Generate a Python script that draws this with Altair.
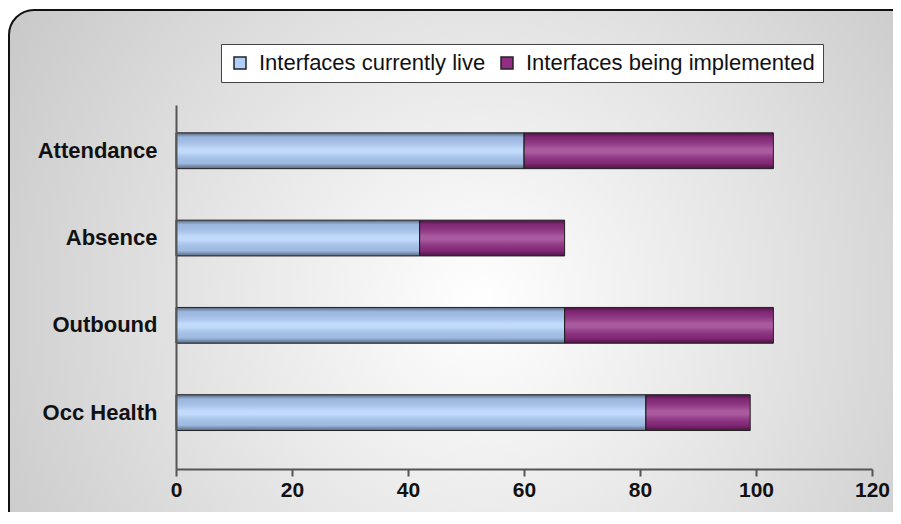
import altair as alt
import pandas as pd

categories = ["Attendance", "Absence", "Outbound", "Occ Health"]
series_names = ["Interfaces currently live", "Interfaces being implemented"]
live = [60, 42, 67, 81]
implemented = [43, 25, 36, 18]
x_ticks = [0, 20, 40, 60, 80, 100, 120]

rows = []
for i, c in enumerate(categories):
    rows.append({"category": c, "series": series_names[0], "idx": 0, "value": live[i]})
    rows.append({"category": c, "series": series_names[1], "idx": 1, "value": implemented[i]})
df = pd.DataFrame(rows)

FONT = "Liberation Sans"

bg = alt.Chart(alt.Data(values=[{"a": 1}])).mark_rect(
    fill=alt.Gradient(
        gradient="radial",
        x1=0.52, y1=0.53, r1=0,
        x2=0.52, y2=0.53, r2=0.7,
        stops=[
            alt.GradientStop(color="#ffffff", offset=0),
            alt.GradientStop(color="#e4e4e4", offset=0.45),
            alt.GradientStop(color="#c0c0c0", offset=1),
        ],
    ),
    stroke="#111111",
    strokeWidth=2,
    cornerRadius=25,
).encode(
    x=alt.value(-167), x2=alt.value(740), y=alt.value(-95), y2=alt.value(440)
)

base = alt.Chart(df).transform_stack(
    stack="value",
    groupby=["category"],
    as_=["start", "end"],
    sort=[alt.SortField("idx", order="ascending")],
)

y_enc = alt.Y(
    "category:N",
    sort=categories,
    title=None,
    scale=alt.Scale(paddingInner=0.59, paddingOuter=0.38, align=0.42),
    axis=alt.Axis(
        ticks=False,
        grid=False,
        domainColor="#555555",
        domainWidth=2,
        labelFont=FONT,
        labelFontWeight="bold",
        labelFontSize=22,
        labelColor="#111111",
        labelPadding=19,
        zindex=1,
    ),
)

x_enc = alt.X(
    "start:Q",
    title=None,
    scale=alt.Scale(domain=[0, 120], nice=False),
    axis=alt.Axis(
        values=x_ticks,
        grid=False,
        domainColor="#555555",
        domainWidth=2,
        tickColor="#555555",
        tickWidth=2,
        tickSize=7,
        labelFont=FONT,
        labelFontWeight="bold",
        labelFontSize=21,
        labelColor="#111111",
        labelPadding=3,
        labelFlush=False,
        zindex=1,
    ),
)

bars = base.mark_bar().encode(
    y=y_enc,
    x=x_enc,
    x2="end:Q",
    color=alt.Color(
        "series:N",
        sort=series_names,
        scale=alt.Scale(domain=series_names, range=["#b0d0fc", "#932c85"]),
        legend=alt.Legend(
            title=None,
            orient="none",
            legendX=45,
            legendY=-61,
            direction="horizontal",
            fillColor="#ffffff",
            strokeColor="#444444",
            padding=8,
            symbolType="square",
            symbolSize=144,
            symbolStrokeColor="#222222",
            symbolStrokeWidth=1.5,
            labelFont=FONT,
            labelFontSize=22,
            labelColor="#111111",
            labelOffset=8,
            columnPadding=10,
            labelLimit=400,
        ),
    ),
)

shine = base.mark_bar(
    fill=alt.Gradient(
        gradient="linear",
        x1=0, y1=0, x2=0, y2=1,
        stops=[
            alt.GradientStop(color="rgba(0,0,0,0.5)", offset=0),
            alt.GradientStop(color="rgba(0,0,0,0.12)", offset=0.12),
            alt.GradientStop(color="rgba(255,255,255,0.22)", offset=0.45),
            alt.GradientStop(color="rgba(255,255,255,0.22)", offset=0.55),
            alt.GradientStop(color="rgba(0,0,0,0.1)", offset=0.85),
            alt.GradientStop(color="rgba(0,0,0,0.5)", offset=1),
        ],
    ),
    stroke="#222222",
    strokeWidth=1,
).encode(
    y=alt.Y("category:N", sort=categories),
    x="start:Q",
    x2="end:Q",
)

chart = alt.layer(bg, bars, shine).properties(
    width=696,
    height=364,
    padding={"left": 168, "top": 97, "right": 21, "bottom": 43},
    autosize=alt.AutoSizeParams(type="none"),
).configure_view(stroke=None).configure(background="#ffffff")

chart.save("out.html", embed_options={"renderer": "svg", "actions": False})
